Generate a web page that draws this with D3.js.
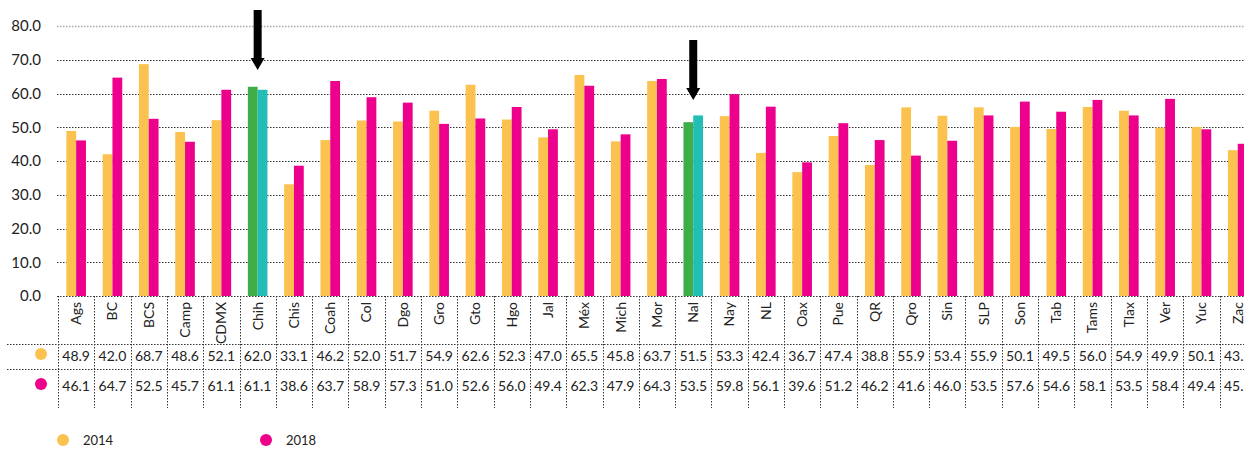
<!DOCTYPE html>
<html>
<head>
<meta charset="utf-8">
<script src="https://cdn.jsdelivr.net/npm/d3@7"></script>
<style>
  body { margin: 0; background: #fff; }
  text { font-family: Lato, "Noto Sans", sans-serif; fill: #222; }
</style>
</head>
<body>
<svg></svg>
<script>
'use strict'

const width = 1244
const height = 449

const states = ['Ags', 'BC', 'BCS', 'Camp', 'CDMX', 'Chih', 'Chis', 'Coah', 'Col', 'Dgo', 'Gro', 'Gto', 'Hgo', 'Jal', 'Méx', 'Mich', 'Mor', 'Nal', 'Nay', 'NL', 'Oax', 'Pue', 'QR', 'Qro', 'Sin', 'SLP', 'Son', 'Tab', 'Tams', 'Tlax', 'Ver', 'Yuc', 'Zac']
const v2014 = [48.9, 42.0, 68.7, 48.6, 52.1, 62.0, 33.1, 46.2, 52.0, 51.7, 54.9, 62.6, 52.3, 47.0, 65.5, 45.8, 63.7, 51.5, 53.3, 42.4, 36.7, 47.4, 38.8, 55.9, 53.4, 55.9, 50.1, 49.5, 56.0, 54.9, 49.9, 50.1, 43.2]
const v2018 = [46.1, 64.7, 52.5, 45.7, 61.1, 61.1, 38.6, 63.7, 58.9, 57.3, 51.0, 52.6, 56.0, 49.4, 62.3, 47.9, 64.3, 53.5, 59.8, 56.1, 39.6, 51.2, 46.2, 41.6, 46.0, 53.5, 57.6, 54.6, 58.1, 53.5, 58.4, 49.4, 45.1]
const years = ['2014', '2018']
const yTicks = [0, 10, 20, 30, 40, 50, 60, 70, 80]
const highlighted = ['Chih', 'Nal']

const colors = { '2014': '#fcc250', '2018': '#ec008c' }
const hiColors = { '2014': '#3fae49', '2018': '#22bdb6' }

const svg = d3.select('svg').attr('width', width).attr('height', height)

const x0 = d3.scaleBand().domain(states).range([58, 58 + 36.3 * states.length])
const bw = x0.bandwidth()
const x1 = d3.scaleBand().domain(years).range([bw / 2 - 9.8, bw / 2 + 9.8])
const y = d3.scaleLinear().domain([0, 80]).range([296, 26])

const data = states.map((s, i) => ({ state: s, values: [v2014[i], v2018[i]] }))

// grid lines
svg.append('g')
    .selectAll('line')
    .data(yTicks)
    .enter().append('line')
    .attr('x1', 57).attr('x2', width)
    .attr('y1', d => Math.round(y(d)) + 0.5).attr('y2', d => Math.round(y(d)) + 0.5)
    .attr('stroke', d => d === 80 ? '#aaa' : '#333')
    .attr('stroke-width', d => d === 80 ? 1.5 : 1)
    .attr('stroke-dasharray', '1.5,1.5')

// y labels
svg.append('g')
    .selectAll('text')
    .data(yTicks)
    .enter().append('text')
    .attr('x', 41)
    .attr('y', d => y(d))
    .attr('dy', '0.35em')
    .attr('text-anchor', 'end')
    .style('font-size', '15px')
    .text(d => d.toFixed(1))

// bars
const groups = svg.append('g')
    .selectAll('g')
    .data(data)
    .enter().append('g')
    .attr('transform', d => `translate(${x0(d.state)},0)`)

groups.selectAll('rect')
    .data(d => d.values.map((v, j) => ({ state: d.state, year: years[j], value: v })))
    .enter().append('rect')
    .attr('x', d => x1(d.year))
    .attr('width', x1.bandwidth())
    .attr('y', d => y(d.value))
    .attr('height', d => y(0) - y(d.value))
    .attr('fill', d => highlighted.includes(d.state) ? hiColors[d.year] : colors[d.year])

// table: vertical dividers
const table = svg.append('g')
table.selectAll('line.v')
    .data(states.concat(['end']))
    .enter().append('line')
    .attr('class', 'v')
    .attr('x1', (d, i) => Math.round(58 + i * bw) + 0.5)
    .attr('x2', (d, i) => Math.round(58 + i * bw) + 0.5)
    .attr('y1', 296).attr('y2', 408)
    .attr('stroke', '#333')
    .attr('stroke-dasharray', '1.5,1.5')

// table: horizontal lines
table.selectAll('line.h')
    .data([344, 369])
    .enter().append('line')
    .attr('class', 'h')
    .attr('x1', 7).attr('x2', width)
    .attr('y1', d => d + 0.5).attr('y2', d => d + 0.5)
    .attr('stroke', '#333')
    .attr('stroke-dasharray', '1.5,1.5')

// category labels
table.selectAll('text.cat')
    .data(states)
    .enter().append('text')
    .attr('class', 'cat')
    .attr('transform', d => `translate(${x0(d) + bw / 2},302) rotate(-90)`)
    .attr('text-anchor', 'end')
    .attr('dy', '0.35em')
    .style('font-size', '14px')
    .text(d => d)

// row markers and values
const rowY = [356, 386]
years.forEach((yr, j) => {
    table.append('circle')
        .attr('cx', 41).attr('cy', rowY[j] - 2).attr('r', 6)
        .attr('fill', colors[yr])
    table.selectAll('text.val' + yr)
        .data(data)
        .enter().append('text')
        .attr('class', 'val' + yr)
        .attr('x', d => x0(d.state) + bw / 2)
        .attr('y', rowY[j])
        .attr('dy', '0.35em')
        .attr('text-anchor', 'middle')
        .style('font-size', '14px')
        .text(d => d.values[j].toFixed(1))
})

// arrows over highlighted bars
const arrowTops = { Chih: 10, Nal: 40 }
highlighted.forEach(s => {
    const cx = x0(s) + bw / 2
    const top = arrowTops[s]
    const headStart = top + 48
    const tip = top + 60
    svg.append('path')
        .attr('d', `M${cx - 4},${top} L${cx + 4},${top} L${cx + 4},${headStart} L${cx + 7},${headStart} L${cx},${tip} L${cx - 7},${headStart} L${cx - 4},${headStart} Z`)
        .attr('fill', '#000')
})

// legend
const legend = svg.append('g')
const legendX = [63, 266]
years.forEach((yr, j) => {
    legend.append('circle')
        .attr('cx', legendX[j]).attr('cy', 440).attr('r', 6)
        .attr('fill', colors[yr])
    legend.append('text')
        .attr('x', legendX[j] + 20).attr('y', 445)
        .style('font-size', '13px')
        .text(yr)
})
</script>
</body>
</html>
